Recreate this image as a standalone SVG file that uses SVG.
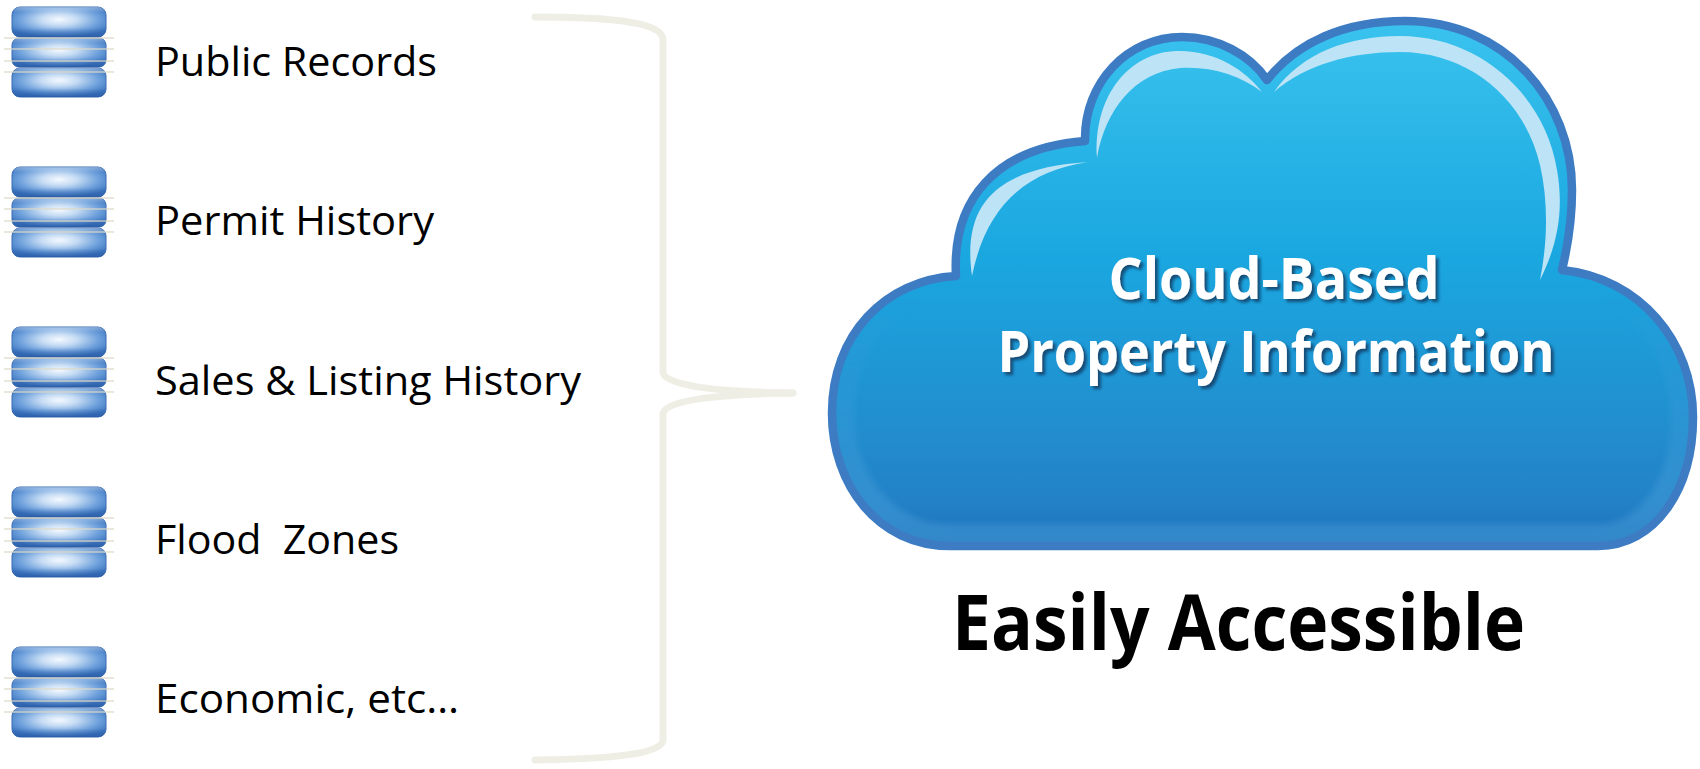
<svg xmlns="http://www.w3.org/2000/svg" xmlns:xlink="http://www.w3.org/1999/xlink" width="1700" height="769" viewBox="0 0 1700 769">
  <style>
    .lbl { font-family: "Open Sans", "Liberation Sans", sans-serif; font-size: 41px; fill: #000; }
    .cloud-txt { font-family: "Open Sans", "Liberation Sans", sans-serif; font-weight: 700; font-size: 58px; fill: #fff; }
    .caption { font-family: "Open Sans", "Liberation Sans", sans-serif; font-weight: 700; font-size: 77px; fill: #000; }
    .brace { fill: none; stroke: #EFEEE5; stroke-width: 7; stroke-linecap: round; stroke-linejoin: round; }
    .guide { stroke: #DCD8C6; stroke-width: 1.4; opacity: 0.8; }
    .seg { stroke: #3A6DB2; stroke-width: 1; }
  </style>
  <defs>
    <!-- database segment shading -->
    <radialGradient id="segFill" cx="0.5" cy="0.42" r="0.6">
      <stop offset="0" stop-color="#F4F9FF"/>
      <stop offset="0.32" stop-color="#C6DCF4"/>
      <stop offset="0.72" stop-color="#6C9FDB"/>
      <stop offset="1" stop-color="#4078C2"/>
    </radialGradient>
    <linearGradient id="segShade" x1="0" y1="0" x2="0" y2="1">
      <stop offset="0" stop-color="#FFFFFF" stop-opacity="0.35"/>
      <stop offset="0.18" stop-color="#FFFFFF" stop-opacity="0"/>
      <stop offset="0.7" stop-color="#1E4F9A" stop-opacity="0"/>
      <stop offset="0.88" stop-color="#1E4F9A" stop-opacity="0.35"/>
      <stop offset="1" stop-color="#1E4F9A" stop-opacity="0.6"/>
    </linearGradient>
    <g id="dbIcon">
      <rect class="seg" x="0" y="0" width="94" height="30" rx="8" fill="url(#segFill)"/>
      <rect x="0" y="0" width="94" height="30" rx="8" fill="url(#segShade)"/>
      <rect class="seg" x="0" y="31" width="94" height="29" rx="7" fill="url(#segFill)"/>
      <rect x="0" y="31" width="94" height="29" rx="7" fill="url(#segShade)"/>
      <rect class="seg" x="0" y="61" width="94" height="29" rx="8" fill="url(#segFill)"/>
      <rect x="0" y="61" width="94" height="29" rx="8" fill="url(#segShade)"/>
      <line class="guide" x1="-8" y1="31" x2="102" y2="31"/>
      <line class="guide" x1="-8" y1="42" x2="102" y2="42"/>
      <line class="guide" x1="-8" y1="54" x2="102" y2="54"/>
      <line class="guide" x1="-8" y1="65" x2="102" y2="65"/>
    </g>

    <!-- cloud body -->
    <linearGradient id="cloudFill" gradientUnits="userSpaceOnUse" x1="0" y1="20" x2="0" y2="546">
      <stop offset="0" stop-color="#3AC3EE"/>
      <stop offset="0.45" stop-color="#1AA7E0"/>
      <stop offset="0.75" stop-color="#2190D0"/>
      <stop offset="0.92" stop-color="#2381C7"/>
      <stop offset="1" stop-color="#1C6EB8"/>
    </linearGradient>
    <path id="cloudShape" d="M 950,546 C 878,546 832,485 832,413 C 832,335 885,280 956,276 C 952,200 995,148 1085,141 C 1084,82 1128,37 1182,37 C 1218,37 1250,55 1267,80 C 1297,42 1345,21 1405,21 C 1505,21 1572,100 1572,190 C 1572,220 1568,245 1562,270 C 1640,278 1693,342 1693,417 C 1693,490 1655,546 1598,546 Z"/>
    <clipPath id="cloudClip">
      <use xlink:href="#cloudShape"/>
    </clipPath>
    <linearGradient id="rimFade" gradientUnits="userSpaceOnUse" x1="0" y1="300" x2="0" y2="546">
      <stop offset="0" stop-color="#4FA6DE" stop-opacity="0"/>
      <stop offset="1" stop-color="#4FA6DE" stop-opacity="0.45"/>
    </linearGradient>
    <filter id="txtShadow" x="-10%" y="-30%" width="120%" height="160%">
      <feDropShadow dx="3" dy="3" stdDeviation="1.8" flood-color="#0B3357" flood-opacity="0.75"/>
    </filter>
    <filter id="soft" x="-5%" y="-5%" width="110%" height="110%">
      <feGaussianBlur stdDeviation="3"/>
    </filter>
  </defs>

  <rect width="1700" height="769" fill="#FFFFFF"/>

  <!-- data sources -->
  <g id="node-public-records">
    <use xlink:href="#dbIcon" x="12" y="7"/>
    <text class="lbl" x="155" y="76" textLength="282" lengthAdjust="spacingAndGlyphs">Public Records</text>
  </g>
  <g id="node-permit-history">
    <use xlink:href="#dbIcon" x="12" y="167"/>
    <text class="lbl" x="155" y="235" textLength="279" lengthAdjust="spacingAndGlyphs">Permit History</text>
  </g>
  <g id="node-sales-listing">
    <use xlink:href="#dbIcon" x="12" y="327"/>
    <text class="lbl" x="155" y="395" textLength="426" lengthAdjust="spacingAndGlyphs">Sales &amp; Listing History</text>
  </g>
  <g id="node-flood-zones">
    <use xlink:href="#dbIcon" x="12" y="487"/>
    <text class="lbl" x="155" y="554" textLength="244" lengthAdjust="spacingAndGlyphs" xml:space="preserve" style="white-space:pre">Flood  Zones</text>
  </g>
  <g id="node-economic">
    <use xlink:href="#dbIcon" x="12" y="647"/>
    <text class="lbl" x="155" y="713" textLength="304" lengthAdjust="spacingAndGlyphs">Economic, etc…</text>
  </g>

  <!-- brace gathering the sources into the cloud -->
  <g id="connectors">
    <path class="brace" d="M 535,17 C 610,17 663,22 663,40 L 663,372 C 663,386 720,392 793,393"/>
    <path class="brace" d="M 793,393 C 720,394 663,400 663,414 L 663,740 C 663,754 610,759 535,760"/>
  </g>

  <!-- cloud -->
  <g id="node-cloud">
    <use xlink:href="#cloudShape" fill="url(#cloudFill)"/>
    <g clip-path="url(#cloudClip)">
      <use xlink:href="#cloudShape" fill="none" stroke="url(#rimFade)" stroke-width="44" filter="url(#soft)"/>
    </g>
    <use xlink:href="#cloudShape" fill="none" stroke="#3D7CC3" stroke-width="8.5" stroke-linejoin="round"/>
    <!-- glossy highlights -->
    <path fill="#BDE4F6" d="M 972,276 C 962,205 995,168 1088,162 C 1020,172 985,212 972,276 Z"/>
    <path fill="#BDE4F6" d="M 1097,158 C 1093,95 1130,52 1177,51 C 1215,50 1245,70 1262,92 C 1240,75 1210,66 1180,68 C 1135,72 1105,110 1097,158 Z"/>
    <path fill="#BDE4F6" d="M 1274,92 C 1302,52 1350,36 1400,36 C 1480,36 1545,95 1557,170 C 1565,215 1555,250 1540,280 C 1548,240 1548,200 1540,165 C 1525,100 1470,52 1400,52 C 1350,52 1305,65 1274,92 Z"/>
    <g filter="url(#txtShadow)">
      <text class="cloud-txt" x="1274" y="299" text-anchor="middle" textLength="331" lengthAdjust="spacingAndGlyphs">Cloud-Based</text>
      <text class="cloud-txt" x="1276" y="372" text-anchor="middle" textLength="557" lengthAdjust="spacingAndGlyphs">Property Information</text>
    </g>
  </g>

  <g id="caption">
    <text class="caption" x="952" y="650" textLength="573" lengthAdjust="spacingAndGlyphs">Easily Accessible</text>
  </g>
</svg>
